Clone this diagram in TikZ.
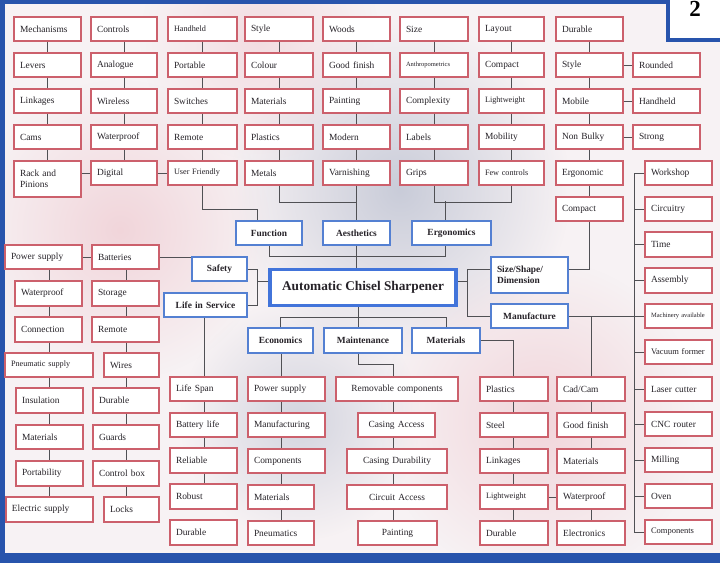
\documentclass[tikz,border=0pt]{standalone}
\usepackage{fontspec}
\setmainfont{Liberation Serif}
\usetikzlibrary{fadings}
\definecolor{bg}{RGB}{247,242,244}
\definecolor{boxred}{RGB}{204,96,108}
\definecolor{boxblue}{RGB}{84,128,210}
\definecolor{centblue}{RGB}{66,116,218}
\definecolor{frameblue}{RGB}{40,84,172}
\definecolor{lnc}{RGB}{80,80,84}
\definecolor{txt}{RGB}{38,34,40}
\definecolor{cloud}{RGB}{196,200,214}
\definecolor{pinkc}{RGB}{240,206,212}
\tikzfading[name=softblob, inner color=transparent!0, outer color=transparent!100]
\newcommand\rb[7][]{%
  \pgfmathsetlengthmacro\mybw{#5-#3}%
  \pgfmathsetlengthmacro\mybh{#6-#4}%
  \pgfmathsetlengthmacro\mytw{#5-#3-12}%
  \node[rbox,minimum width=\mybw,minimum height=\mybh,text width=\mytw,#1] (#2) at ({(#3+#5)/2},{(#4+#6)/2}) {#7};}
\newcommand\bb[7][]{%
  \pgfmathsetlengthmacro\mybw{#5-#3}%
  \pgfmathsetlengthmacro\mybh{#6-#4}%
  \pgfmathsetlengthmacro\mytw{#5-#3-12}%
  \node[bbox,minimum width=\mybw,minimum height=\mybh,text width=\mytw,#1] (#2) at ({(#3+#5)/2},{(#4+#6)/2}) {#7};}
\begin{document}
\begin{tikzpicture}[x=1pt,y=-1pt,
  ln/.style={draw=lnc,line width=0.8pt},
  rbox/.style={draw=boxred,line width=1.1pt,fill=white,inner xsep=6pt,inner ysep=1pt,align=left,text=txt,font=\fontsize{9.4}{10.5}\selectfont},
  bbox/.style={draw=boxblue,line width=1.5pt,fill=white,inner xsep=6pt,inner ysep=1pt,align=center,text=txt,font=\bfseries\fontsize{9.4}{10.5}\selectfont},
  sm/.style={font=\fontsize{8.2}{9}\selectfont},
  tn/.style={font=\fontsize{6.5}{7.5}\selectfont},
]
\useasboundingbox (0,0) rectangle (720,563);
% background
\fill[bg] (0,0) rectangle (720,563);
\fill[cloud,path fading=softblob,fill opacity=0.9] (400,190) circle (170);
\fill[cloud,path fading=softblob,fill opacity=0.7] (300,420) circle (120);
\fill[pinkc,path fading=softblob,fill opacity=0.8] (120,230) circle (150);
\fill[pinkc,path fading=softblob,fill opacity=0.8] (540,420) circle (160);
\fill[pinkc,path fading=softblob,fill opacity=0.6] (260,40) circle (120);
% frame
\fill[frameblue] (0,0) rectangle (720,4);
\fill[frameblue] (0,0) rectangle (5,563);
\fill[frameblue] (0,553) rectangle (720,563);
\fill[white] (666,0) rectangle (720,40);
\draw[frameblue,line width=4pt] (668,0) -- (668,40) -- (720,40);
\node[font=\bfseries\fontsize{23}{23}\selectfont,text=black,inner sep=0pt] (two) at (695,9) {2};

% ---------- top columns ----------
\rb{mech}{14}{17}{81}{41}{Mechanisms}
\rb{lev}{14}{53}{81}{77}{Levers}
\rb{link}{14}{89}{81}{113}{Linkages}
\rb{cams}{14}{125}{81}{149}{Cams}
\rb{rack}{14}{161}{81}{197}{Rack and\\Pinions}
\rb{ctrl}{91}{17}{157}{41}{Controls}
\rb{analog}{91}{53}{157}{77}{Analogue}
\rb{wless}{91}{89}{157}{113}{Wireless}
\rb{wproofA}{91}{125}{157}{149}{Waterproof}
\rb{digital}{91}{161}{157}{185}{Digital}
\rb[sm]{hheldA}{168}{17}{237}{41}{Handheld}
\rb{port}{168}{53}{237}{77}{Portable}
\rb{switch}{168}{89}{237}{113}{Switches}
\rb{remA}{168}{125}{237}{149}{Remote}
\rb[sm]{ufr}{168}{161}{237}{185}{User Friendly}
\rb{styleA}{245}{17}{313}{41}{Style}
\rb{colour}{245}{53}{313}{77}{Colour}
\rb{matA}{245}{89}{313}{113}{Materials}
\rb{plasA}{245}{125}{313}{149}{Plastics}
\rb{metals}{245}{161}{313}{185}{Metals}
\rb{woods}{323}{17}{390}{41}{Woods}
\rb{gfinA}{323}{53}{390}{77}{Good finish}
\rb{paintA}{323}{89}{390}{113}{Painting}
\rb{modern}{323}{125}{390}{149}{Modern}
\rb{varn}{323}{161}{390}{185}{Varnishing}
\rb{size}{400}{17}{468}{41}{Size}
\rb[tn]{anthro}{400}{53}{468}{77}{Anthropometrics}
\rb{complex}{400}{89}{468}{113}{Complexity}
\rb{labels}{400}{125}{468}{149}{Labels}
\rb{grips}{400}{161}{468}{185}{Grips}
\rb{layout}{479}{17}{544}{41}{Layout}
\rb{compA}{479}{53}{544}{77}{Compact}
\rb[sm]{lwA}{479}{89}{544}{113}{Lightweight}
\rb{mobility}{479}{125}{544}{149}{Mobility}
\rb[sm]{fewc}{479}{161}{544}{185}{Few controls}
\rb{durA}{556}{17}{623}{41}{Durable}
\rb{styleB}{556}{53}{623}{77}{Style}
\rb{mobile}{556}{89}{623}{113}{Mobile}
\rb{nonbulky}{556}{125}{623}{149}{Non Bulky}
\rb{ergonomic}{556}{161}{623}{185}{Ergonomic}
\rb{compB}{556}{197}{623}{221}{Compact}
\rb{rounded}{633}{53}{700}{77}{Rounded}
\rb{hheldB}{633}{89}{700}{113}{Handheld}
\rb{strong}{633}{125}{700}{149}{Strong}

% ---------- right column ----------
\rb{workshop}{645}{161}{712}{185}{Workshop}
\rb{circ}{645}{197}{712}{221}{Circuitry}
\rb{time}{645}{232}{712}{257}{Time}
\rb{assembly}{645}{268}{712}{293}{Assembly}
\rb[tn]{machav}{645}{304}{712}{328}{Machinery available}
\rb[font=\fontsize{8.5}{9.5}\selectfont]{vacuum}{645}{340}{712}{364}{Vacuum former}
\rb{laser}{645}{377}{712}{401}{Laser cutter}
\rb{cnc}{645}{412}{712}{436}{CNC router}
\rb{milling}{645}{448}{712}{472}{Milling}
\rb{oven}{645}{484}{712}{508}{Oven}
\rb[font=\fontsize{8.5}{9.5}\selectfont]{compsR}{645}{520}{712}{544}{Components}

% ---------- category boxes ----------
\bb{function}{236}{221}{302}{245}{Function}
\bb{aesth}{323}{221}{390}{245}{Aesthetics}
\bb{ergos}{412}{221}{491}{245}{Ergonomics}
\bb{safety}{192}{257}{247}{281}{Safety}
\bb{life}{164}{293}{247}{317}{Life in Service}
\bb[align=left]{sizeshape}{491}{257}{568}{293}{Size/Shape/\\Dimension}
\bb{manu}{491}{304}{568}{328}{Manufacture}
\bb{econ}{248}{328}{313}{353}{Economics}
\bb{maint}{324}{328}{402}{353}{Maintenance}
\bb{mats}{412}{328}{480}{353}{Materials}
\node[draw=centblue,line width=3.5pt,fill=white,minimum width=186pt,minimum height=36pt,text=txt,font=\bfseries\fontsize{13.3}{15}\selectfont] (main) at (363,287.5) {Automatic Chisel Sharpener};

% ---------- left bottom ----------
\rb{psA}{5}{245}{82}{269}{Power supply}
\rb{batt}{92}{245}{159}{269}{Batteries}
\rb{wproofB}{15}{281}{82}{306}{Waterproof}
\rb{storage}{92}{281}{159}{306}{Storage}
\rb{connect}{15}{317}{82}{342}{Connection}
\rb{remB}{92}{317}{159}{342}{Remote}
\rb[sm]{pneu}{5}{353}{93}{377}{Pneumatic supply}
\rb{wires}{104}{353}{159}{377}{Wires}
\rb{insul}{16}{388}{83}{413}{Insulation}
\rb{durB}{93}{388}{159}{413}{Durable}
\rb{matB}{16}{425}{83}{449}{Materials}
\rb{guards}{93}{425}{159}{449}{Guards}
\rb{portab}{16}{461}{83}{486}{Portability}
\rb{ctrlbox}{93}{461}{159}{486}{Control box}
\rb{elec}{6}{497}{93}{522}{Electric supply}
\rb{locks}{104}{497}{159}{522}{Locks}

\rb{lspan}{170}{377}{237}{401}{Life Span}
\rb{battlife}{170}{413}{237}{437}{Battery life}
\rb{reliable}{170}{448}{237}{473}{Reliable}
\rb{robust}{170}{484}{237}{509}{Robust}
\rb{durC}{170}{520}{237}{545}{Durable}

\rb{psB}{248}{377}{325}{401}{Power supply}
\rb{manuf}{248}{413}{325}{437}{Manufacturing}
\rb{compsB}{248}{449}{325}{473}{Components}
\rb{matC}{248}{485}{314}{509}{Materials}
\rb{pneumatics}{248}{521}{314}{545}{Pneumatics}

\rb[align=center]{removable}{336}{377}{458}{401}{Removable components}
\rb[align=center]{casacc}{358}{413}{435}{437}{Casing Access}
\rb[align=center]{casdur}{347}{449}{447}{473}{Casing Durability}
\rb[align=center]{circacc}{347}{485}{447}{509}{Circuit Access}
\rb[align=center]{paintB}{358}{521}{437}{545}{Painting}

\rb{plasB}{480}{377}{548}{401}{Plastics}
\rb{steel}{480}{413}{548}{437}{Steel}
\rb{linkB}{480}{449}{548}{473}{Linkages}
\rb[sm]{lwB}{480}{485}{548}{509}{Lightweight}
\rb{durD}{480}{521}{548}{545}{Durable}

\rb{cadcam}{557}{377}{625}{401}{Cad/Cam}
\rb{gfinB}{557}{413}{625}{437}{Good finish}
\rb{matD}{557}{449}{625}{473}{Materials}
\rb{wproofC}{557}{485}{625}{509}{Waterproof}
\rb{electronics}{557}{521}{625}{545}{Electronics}

% ---------- column coordinates ----------
\coordinate (L1) at (49,0);
\coordinate (L2) at (126,0);
\coordinate (L3) at (204,0);
\coordinate (B1) at (281,0);
\coordinate (B2) at (393,364);
\coordinate (B3) at (513,0);
\coordinate (B4) at (591,0);
\coordinate (xC) at (358,0);

% ---------- connectors: top ----------
\foreach \a/\b in {mech/lev,lev/link,link/cams,cams/rack,
  ctrl/analog,analog/wless,wless/wproofA,wproofA/digital,
  hheldA/port,port/switch,switch/remA,remA/ufr,
  styleA/colour,colour/matA,matA/plasA,plasA/metals,
  woods/gfinA,gfinA/paintA,paintA/modern,modern/varn,
  size/anthro,anthro/complex,complex/labels,labels/grips,
  layout/compA,compA/lwA,lwA/mobility,mobility/fewc,
  durA/styleB,styleB/mobile,mobile/nonbulky,nonbulky/ergonomic,ergonomic/compB}
  \draw[ln] (\a) -- (\b);
\draw[ln] (digital.west) -- (digital.west -| rack.east);
\draw[ln] (digital) -- (ufr);
\draw[ln] (styleB) -- (rounded);
\draw[ln] (mobile) -- (hheldB);
\draw[ln] (nonbulky) -- (strong);

\draw[ln] (ufr.south) |- ([xshift=-12pt,yshift=11pt]function.north) -- ([xshift=-12pt]function.north);
\draw[ln] (metals.south) |- ([yshift=-17pt]varn.south) -- (varn.south);
\draw[ln] (varn.south) -- (aesth.north);
\draw[ln] (grips.south) |- ([yshift=-17pt]fewc.south) -- (fewc.south);
\draw[ln] ([xshift=-6.5pt,yshift=19pt]ergos.north) -- ([xshift=-6.5pt]ergos.north);
\draw[ln] (function.south) |- ([xshift=-6.5pt,yshift=-11pt]ergos.south) -- ([xshift=-6.5pt]ergos.south);
\draw[ln] (aesth.south) -- (aesth.south |- main.north);

% ---------- connectors: sides ----------
\draw[ln] (safety.east) -| ([xshift=10pt]life.east) -- (life.east);
\draw[ln] ([yshift=6.5pt]main.west) -- ++(-11,0);
\draw[ln] ([yshift=6pt]sizeshape.west) -| ([xshift=-23pt]manu.west) -- (manu.west);
\draw[ln] ([yshift=6.5pt]main.east) -- ++(10,0);
\draw[ln] (compB.south) |- ([yshift=6pt]sizeshape.east);
\draw[ln] (manu.east) -- (machav.west);
\draw[ln] (workshop.west) -| ([xshift=-10pt]compsR.west) -- (compsR.west);
\foreach \n in {circ,time,assembly,vacuum,laser,cnc,milling,oven}
  \draw[ln] ([xshift=-10pt]\n.west) -- (\n.west);
\draw[ln] (cadcam.north) -- (cadcam.north |- manu.east);

% ---------- connectors: bottom ----------
\draw[ln] (xC |- main.south) -- (xC |- maint.north);
\draw[ln] (econ.north) |- ([yshift=10pt]mats.north) -- (mats.north);
\draw[ln] (econ.south -| B1) -- (psB.north -| B1);
\draw[ln] (xC |- maint.south) |- (B2) -- (B2 |- removable.north);
\draw[ln] (mats.east) -| (plasB.north -| B3);
\draw[ln] (life.south -| L3) -- (lspan.north -| L3);
\draw[ln] (psA.east) -- (batt.west);
\draw[ln] (batt.east) -- (batt.east -| safety.west);

\foreach \a/\b in {psA/wproofB,wproofB/connect,connect/pneu,pneu/insul,insul/matB,matB/portab,portab/elec}
  \draw[ln] (\a.south -| L1) -- (\b.north -| L1);
\foreach \a/\b in {batt/storage,storage/remB,remB/wires,wires/durB,durB/guards,guards/ctrlbox,ctrlbox/locks}
  \draw[ln] (\a.south -| L2) -- (\b.north -| L2);
\foreach \a/\b in {lspan/battlife,battlife/reliable,reliable/robust}
  \draw[ln] (\a.south -| L3) -- (\b.north -| L3);
\foreach \a/\b in {psB/manuf,manuf/compsB,compsB/matC,matC/pneumatics}
  \draw[ln] (\a.south -| B1) -- (\b.north -| B1);
\foreach \a/\b in {removable/casacc,casacc/casdur,casdur/circacc,circacc/paintB}
  \draw[ln] (\a.south -| B2) -- (\b.north -| B2);
\foreach \a/\b in {plasB/steel,steel/linkB,linkB/lwB,lwB/durD}
  \draw[ln] (\a.south -| B3) -- (\b.north -| B3);
\foreach \a/\b in {cadcam/gfinB,gfinB/matD,wproofC/electronics}
  \draw[ln] (\a.south -| B4) -- (\b.north -| B4);
\draw[ln] (lwB) -- (wproofC);
\end{tikzpicture}
\end{document}
